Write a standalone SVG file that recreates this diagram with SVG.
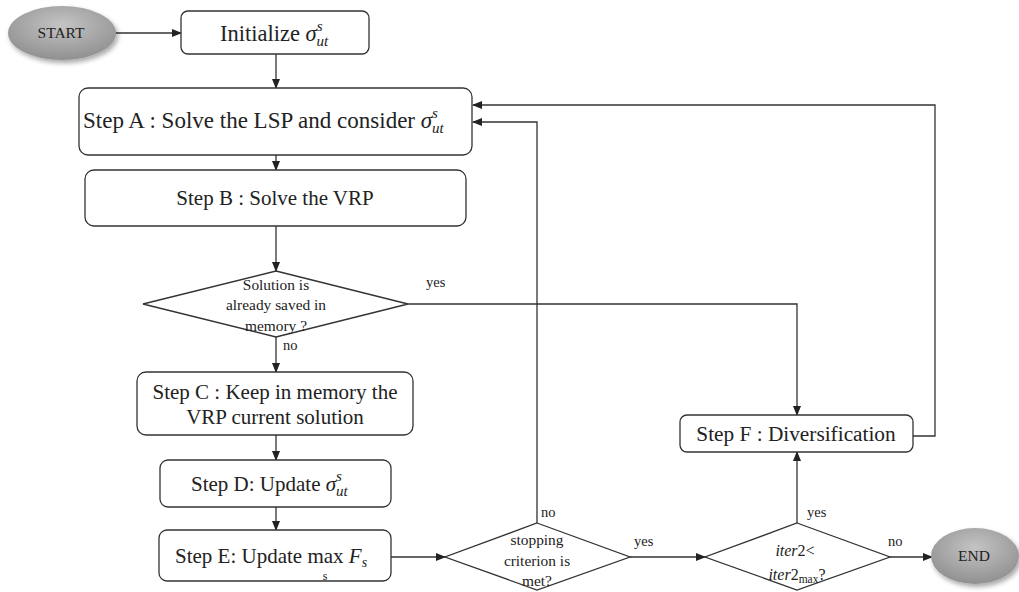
<svg xmlns="http://www.w3.org/2000/svg" width="1019" height="592" viewBox="0 0 1019 592">
<style>
.box{fill:#fff;stroke:#333;stroke-width:1.3}
.dia{fill:#fff;stroke:#333;stroke-width:1.3}
.con{fill:none;stroke:#333;stroke-width:1.3}
.t{font-family:"Liberation Serif","Times New Roman",Times,serif;fill:#222;text-anchor:middle}
.s{font-family:"Liberation Serif","Times New Roman",Times,serif;fill:#222}
.m{font-style:italic}
.lbl{font-family:"Liberation Serif","Times New Roman",Times,serif;fill:#222;font-size:14.5px}
</style>
<defs>
<marker id="ah" markerWidth="10" markerHeight="8" refX="9" refY="4" orient="auto" markerUnits="userSpaceOnUse">
<path d="M0,0 L10,4 L0,8 z" fill="#222"/>
</marker>
<radialGradient id="g" cx="0.5" cy="0.35" r="0.7">
<stop offset="0" stop-color="#c4c4c4"/>
<stop offset="1" stop-color="#8c8c8c"/>
</radialGradient>
<filter id="sh" x="-20%" y="-20%" width="150%" height="160%">
<feGaussianBlur in="SourceAlpha" stdDeviation="2.5"/>
<feOffset dx="2" dy="3"/>
<feComponentTransfer><feFuncA type="linear" slope="0.35"/></feComponentTransfer>
<feMerge><feMergeNode/><feMergeNode in="SourceGraphic"/></feMerge>
</filter>
</defs>
<rect width="1019" height="592" fill="#fff"/>

<g id="connectors">
<line class="con" x1="116" y1="33" x2="181" y2="33" marker-end="url(#ah)"/>
<line class="con" x1="276" y1="54" x2="276" y2="88" marker-end="url(#ah)"/>
<line class="con" x1="276" y1="155" x2="276" y2="170" marker-end="url(#ah)"/>
<line class="con" x1="276" y1="226" x2="276" y2="271" marker-end="url(#ah)"/>
<line class="con" x1="276" y1="337" x2="276" y2="372" marker-end="url(#ah)"/>
<line class="con" x1="276" y1="435" x2="276" y2="460" marker-end="url(#ah)"/>
<line class="con" x1="276" y1="507" x2="276" y2="530" marker-end="url(#ah)"/>
<line class="con" x1="391" y1="557" x2="445" y2="557" marker-end="url(#ah)"/>
<polyline class="con" points="537,523 537,122 473,122" marker-end="url(#ah)"/>
<line class="con" x1="630" y1="557" x2="705" y2="557" marker-end="url(#ah)"/>
<polyline class="con" points="408,304 797,304 797,415" marker-end="url(#ah)"/>
<line class="con" x1="797" y1="523" x2="797" y2="452" marker-end="url(#ah)"/>
<polyline class="con" points="913,436 935,436 935,105 473,105" marker-end="url(#ah)"/>
<line class="con" x1="890" y1="557" x2="932" y2="557" marker-end="url(#ah)"/>
<text class="lbl" x="426" y="287">yes</text>
<text class="lbl" x="283" y="350">no</text>
<text class="lbl" x="541" y="517">no</text>
<text class="lbl" x="634" y="546">yes</text>
<text class="lbl" x="807" y="517">yes</text>
<text class="lbl" x="888" y="546">no</text>
</g>

<g id="start">
<ellipse cx="62" cy="33" rx="54" ry="27" fill="url(#g)" filter="url(#sh)"/>
<text class="t" x="61" y="38" font-size="15.5">START</text>
</g>

<g id="init">
<rect class="box" x="181" y="11" width="188" height="43" rx="7"/>
<text class="s" x="220" y="41" font-size="22.5">Initialize <tspan class="m">σ</tspan><tspan class="m" font-size="15" dy="-10">s</tspan><tspan class="m" font-size="15" dx="-6" dy="15">ut</tspan></text>
</g>

<g id="stepA">
<rect class="box" x="79" y="88" width="393" height="67" rx="9"/>
<text class="s" x="83" y="128" font-size="23">Step A : Solve the LSP and consider <tspan class="m">σ</tspan><tspan class="m" font-size="15" dy="-10">s</tspan><tspan class="m" font-size="15" dx="-6" dy="15">ut</tspan></text>
</g>

<g id="stepB">
<rect class="box" x="85" y="170" width="381" height="56" rx="9"/>
<text class="t" x="275" y="205" font-size="21">Step B : Solve the VRP</text>
</g>

<g id="dec1">
<polygon class="dia" points="276,271 408,304 276,337 143,304"/>
<text class="t" x="276" y="290" font-size="15.4">Solution  is</text>
<text class="t" x="276" y="310" font-size="15.4">already  saved  in</text>
<text class="t" x="276" y="331" font-size="15.4">memory  ?</text>
</g>

<g id="stepC">
<rect class="box" x="137" y="372" width="276" height="63" rx="9"/>
<text class="t" x="275" y="399" font-size="21">Step C : Keep in memory the</text>
<text class="t" x="275" y="424" font-size="21">VRP current solution</text>
</g>

<g id="stepD">
<rect class="box" x="160" y="460" width="231" height="47" rx="8"/>
<text class="s" x="191" y="491" font-size="21">Step D: Update <tspan class="m">σ</tspan><tspan class="m" font-size="15" dy="-10">s</tspan><tspan class="m" font-size="15" dx="-6" dy="15">ut</tspan></text>
</g>

<g id="stepE">
<rect class="box" x="159" y="530" width="232" height="51" rx="8"/>
<text class="s" x="175" y="563" font-size="21">Step E: Update max <tspan class="m">F</tspan><tspan class="m" font-size="14" dy="4">s</tspan></text>
<text class="t" x="325" y="580" font-size="12">s</text>
</g>

<g id="dec2">
<polygon class="dia" points="537,523 630,557 537,590 445,557"/>
<text class="t" x="537" y="545" font-size="15.4">stopping</text>
<text class="t" x="537" y="566" font-size="15.4">criterion  is</text>
<text class="t" x="537" y="586" font-size="15.4">met?</text>
</g>

<g id="dec3">
<polygon class="dia" points="797,523 890,557 797,590 705,557"/>
<text class="t" x="795" y="556" font-size="16"><tspan class="m">iter</tspan>2&lt;</text>
<text class="t" x="797" y="580" font-size="16"><tspan class="m">iter</tspan>2<tspan font-size="11.5" dy="3">max</tspan><tspan dy="-3">?</tspan></text>
</g>

<g id="stepF">
<rect class="box" x="680" y="415" width="233" height="37" rx="7"/>
<text class="t" x="796" y="441" font-size="21.3">Step F : Diversification</text>
</g>

<g id="end">
<ellipse cx="975" cy="556" rx="44" ry="28" fill="url(#g)" filter="url(#sh)"/>
<text class="t" x="974" y="561" font-size="15.5">END</text>
</g>
</svg>
